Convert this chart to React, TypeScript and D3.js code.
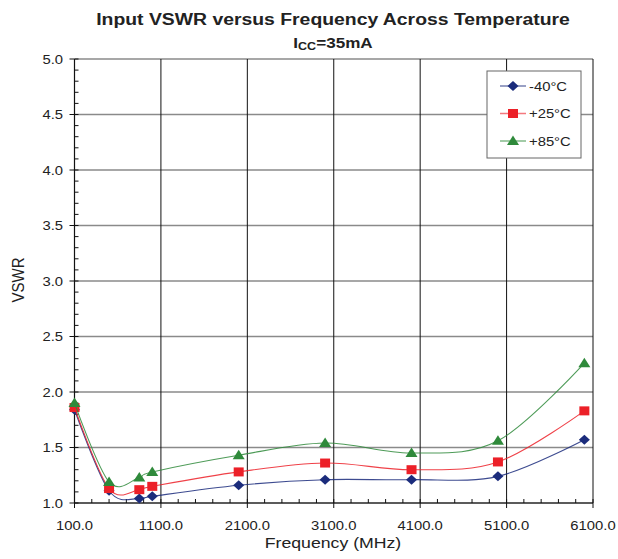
import React from "react";
import * as d3 from "d3";

const freqs = [100, 500, 850, 1000, 2000, 3000, 4000, 5000, 6000];
const vswrMinus40 = [1.84, 1.11, 1.04, 1.06, 1.16, 1.21, 1.21, 1.24, 1.57];
const vswrPlus25 = [1.86, 1.13, 1.12, 1.15, 1.28, 1.36, 1.30, 1.37, 1.83];
const vswrPlus85 = [1.9, 1.19, 1.23, 1.28, 1.43, 1.54, 1.45, 1.56, 2.26];
const seriesNames = ["-40°C", "+25°C", "+85°C"];
const xTicks = [100, 1100, 2100, 3100, 4100, 5100, 6100];
const yTicks = [1.0, 1.5, 2.0, 2.5, 3.0, 3.5, 4.0, 4.5, 5.0];

const W = 618, H = 559;
const L = 74.5, R = 593, T = 59, B = 503;
const FONT = "'Liberation Sans', Arial, sans-serif";
const SX = 1.14;

function Txt(props: any) {
  const { x, y, anchor, size, weight, children } = props;
  return (
    <text
      transform={`translate(${x},${y}) scale(${SX},1)`}
      textAnchor={anchor || "start"}
      fontSize={size}
      fontWeight={weight || "normal"}
      fill="#222"
    >
      {children}
    </text>
  );
}

export default function App() {
  const x = d3.scaleLinear().domain([100, 6100]).range([L, R]);
  const y = d3.scaleLinear().domain([1, 5]).range([B, T]);
  const line = d3
    .line<[number, number]>()
    .x((d) => x(d[0]))
    .y((d) => y(d[1]))
    .curve(d3.curveCardinal.tension(0));

  const series = [
    { name: seriesNames[0], vals: vswrMinus40, color: "#1B2C7C", marker: "diamond" },
    { name: seriesNames[1], vals: vswrPlus25, color: "#EC2028", marker: "square" },
    { name: seriesNames[2], vals: vswrPlus85, color: "#2F8A3B", marker: "triangle" },
  ];

  const marker = (kind: string, cx: number, cy: number, color: string, key?: any) => {
    if (kind === "diamond")
      return <path key={key} d={`M${cx},${cy - 5}L${cx + 5.5},${cy}L${cx},${cy + 5}L${cx - 5.5},${cy}Z`} fill={color} />;
    if (kind === "square")
      return <rect key={key} x={cx - 5} y={cy - 4.5} width={10} height={9} fill={color} />;
    return <path key={key} d={`M${cx},${cy - 5.5}L${cx + 6},${cy + 4}L${cx - 6},${cy + 4}Z`} fill={color} />;
  };

  const minorY = d3.range(1, 5.0001, 0.1);
  const minorX = d3.range(100, 6100.1, 200);

  const legX = 487, legY = 71, legW = 94, legH = 87;

  return (
    <svg width={W} height={H} style={{ position: "absolute", left: 0, top: 0, background: "#fff" }} fontFamily={FONT}>
      <rect x={0} y={0} width={W} height={H} fill="#fff" />
      {yTicks.map((t) => (
        <line key={"hg" + t} x1={L} x2={R} y1={y(t)} y2={y(t)} stroke="#8a8a8a" strokeWidth={1.6} />
      ))}
      {xTicks.map((t) => (
        <line key={"vg" + t} x1={x(t)} x2={x(t)} y1={T} y2={B} stroke="#111" strokeWidth={1} />
      ))}
      <line x1={L} x2={L} y1={T} y2={B} stroke="#111" strokeWidth={1.2} />
      <line x1={L} x2={R} y1={B} y2={B} stroke="#111" strokeWidth={1.2} />
      {minorY.map((t, i) => (
        <line key={"my" + i} x1={L} x2={L + 4} y1={y(t)} y2={y(t)} stroke="#111" strokeWidth={1} />
      ))}
      {yTicks.map((t) => (
        <line key={"My" + t} x1={L - 5} x2={L} y1={y(t)} y2={y(t)} stroke="#111" strokeWidth={1} />
      ))}
      {minorX.map((t, i) => (
        <line key={"mx" + i} x1={x(t)} x2={x(t)} y1={B} y2={B - 4} stroke="#111" strokeWidth={1} />
      ))}
      {xTicks.map((t) => (
        <line key={"Mx" + t} x1={x(t)} x2={x(t)} y1={B} y2={B + 5} stroke="#111" strokeWidth={1} />
      ))}
      {yTicks.map((t) => (
        <Txt key={"yl" + t} x={63} y={y(t) + 4.7} anchor="end" size={13}>
          {t.toFixed(1)}
        </Txt>
      ))}
      {xTicks.map((t) => (
        <Txt key={"xl" + t} x={x(t)} y={530} anchor="middle" size={13}>
          {t.toFixed(1)}
        </Txt>
      ))}
      {series.map((s) => {
        const pts: [number, number][] = freqs.map((f, i) => [f, s.vals[i]]);
        return (
          <g key={s.name}>
            <path d={line(pts) || ""} fill="none" stroke={s.color} strokeWidth={1.1} strokeOpacity={0.85} />
            {pts.map((p, i) => marker(s.marker, x(p[0]), y(p[1]), s.color, i))}
          </g>
        );
      })}
      <rect x={legX} y={legY} width={legW} height={legH} fill="#fff" stroke="#666" strokeWidth={1} />
      {series.map((s, i) => {
        const cy = 86 + i * 27.5;
        return (
          <g key={"lg" + s.name}>
            <line x1={500} x2={526} y1={cy} y2={cy} stroke={s.color} strokeOpacity={0.6} strokeWidth={1.5} />
            {marker(s.marker, 513, cy, s.color)}
            <Txt x={529} y={cy + 4.7} size={13}>
              {s.name}
            </Txt>
          </g>
        );
      })}
      <Txt x={333} y={25} anchor="middle" size={17} weight="bold">
        Input VSWR versus Frequency Across Temperature
      </Txt>
      <Txt x={333} y={48} anchor="middle" size={15} weight="bold">
        I<tspan fontSize={11} dy={2}>CC</tspan><tspan dy={-2}>=35mA</tspan>
      </Txt>
      <Txt x={333} y={548} anchor="middle" size={15.5}>
        Frequency (MHz)
      </Txt>
      <text transform="translate(24,280) rotate(-90) scale(1,1.14)" textAnchor="middle" fontSize={15} fill="#222">
        VSWR
      </text>
    </svg>
  );
}
